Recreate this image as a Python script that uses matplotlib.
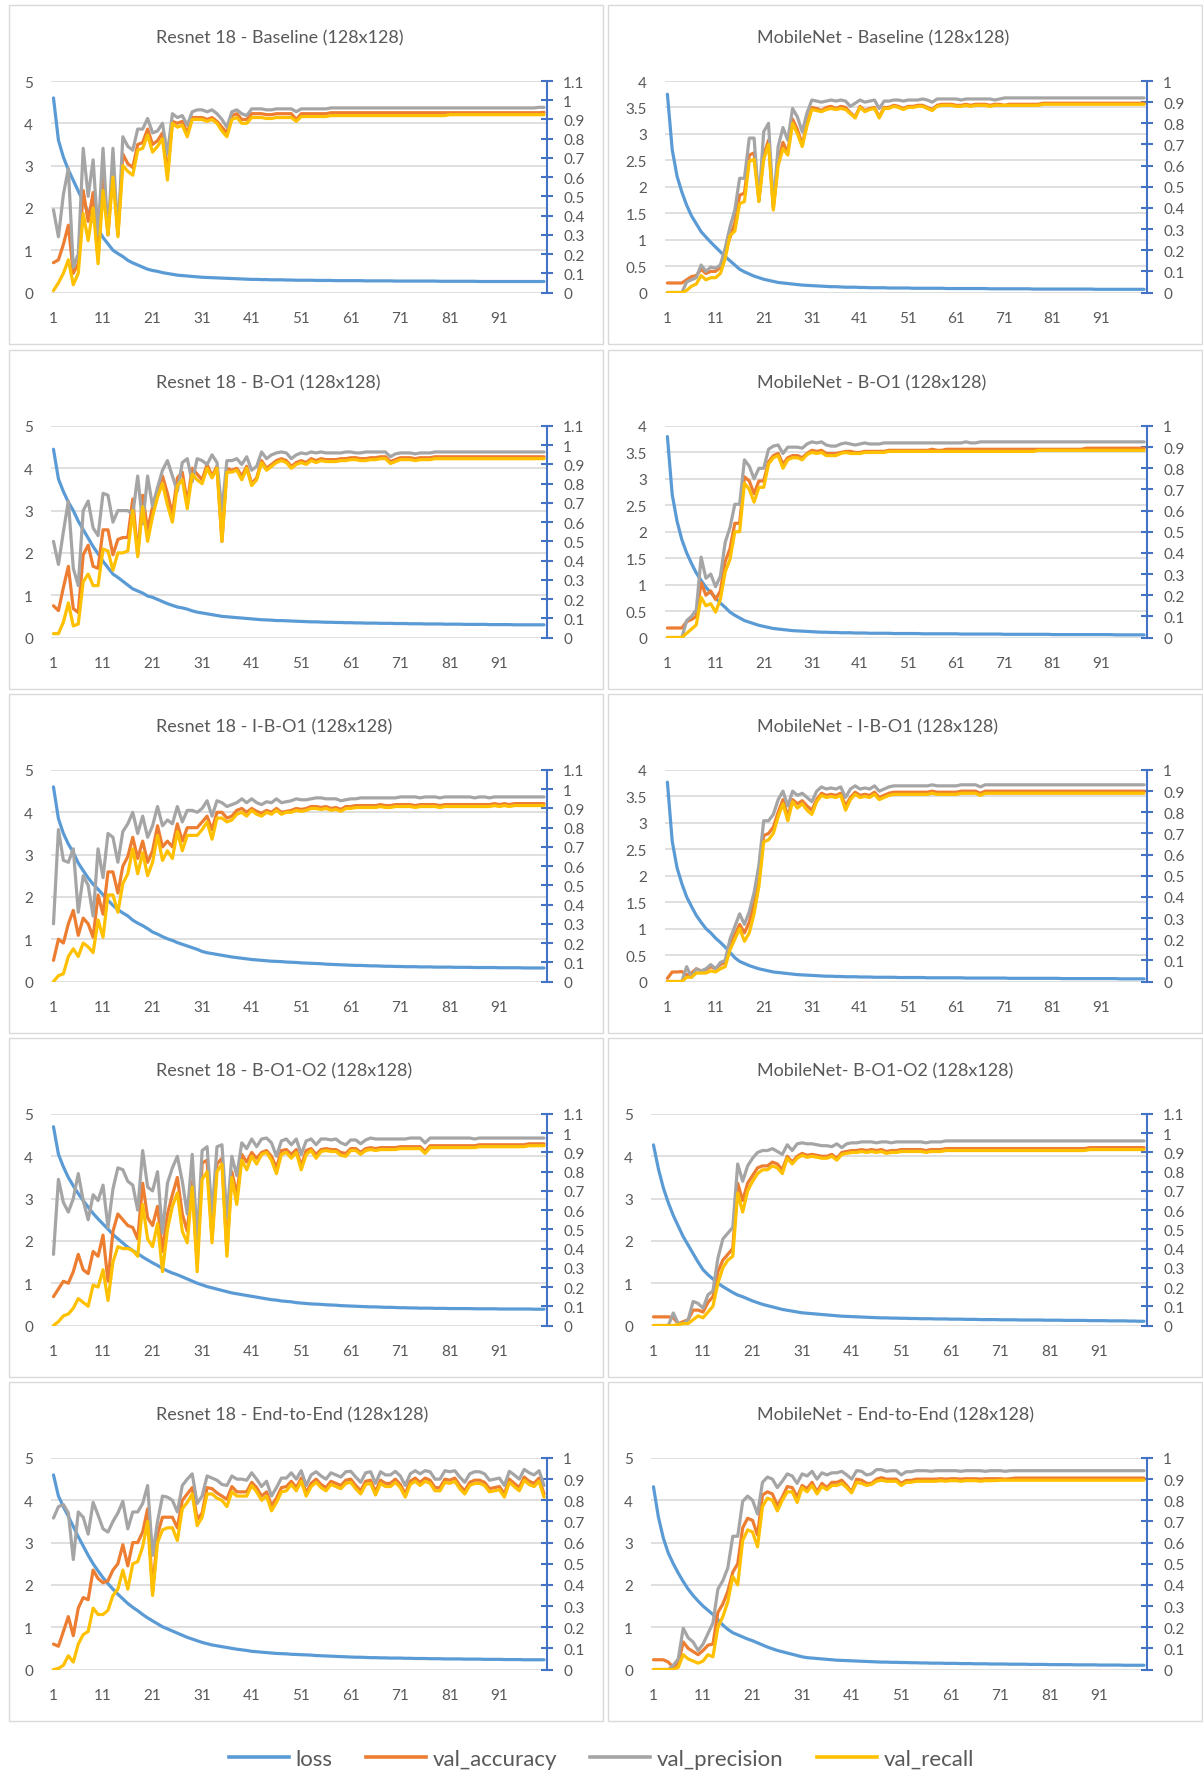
import numpy as np
import matplotlib
matplotlib.use("Agg")
import matplotlib.pyplot as plt
from matplotlib.ticker import FuncFormatter
from matplotlib.patches import Rectangle
from matplotlib.lines import Line2D

plt.rcParams['font.family'] = ['Lato', 'DejaVu Sans']


def series(text):
    vals = np.array(text.split(), dtype=float)
    assert len(vals) == 100, len(vals)
    return vals


epochs = np.arange(1, 101)
x_ticks = [1, 11, 21, 31, 41, 51, 61, 71, 81, 91]
series_names = ["loss", "val_accuracy", "val_precision", "val_recall"]
series_colors = ["#5B9BD5", "#ED7D31", "#A5A5A5", "#FFC000"]

# ---------------- Resnet 18 - Baseline ----------------
r18_base_loss = series("""
4.60 3.60 3.20 2.90 2.65 2.40 2.15 1.90 1.70 1.50
1.30 1.15 1.00 0.92 0.85 0.76 0.70 0.65 0.60 0.55
0.52 0.50 0.47 0.45 0.43 0.41 0.40 0.39 0.38 0.37
0.36 0.355 0.35 0.345 0.34 0.335 0.33 0.325 0.32 0.315
0.31 0.31 0.305 0.305 0.30 0.30 0.30 0.295 0.295 0.29
0.29 0.29 0.29 0.285 0.285 0.285 0.285 0.28 0.28 0.28
0.28 0.28 0.28 0.275 0.275 0.275 0.275 0.275 0.275 0.27
0.27 0.27 0.27 0.27 0.27 0.27 0.27 0.27 0.265 0.265
0.265 0.265 0.265 0.265 0.265 0.265 0.26 0.26 0.26 0.26
0.26 0.26 0.26 0.26 0.26 0.26 0.26 0.26 0.26 0.26""")
r18_base_acc = series("""
.155 .17 .25 .35 .10 .15 .53 .37 .52 .17
.62 .30 .66 .30 .72 .67 .65 .77 .78 .85
.77 .79 .83 .62 .89 .88 .89 .83 .91 .91
.91 .90 .91 .89 .86 .83 .92 .93 .90 .90
.93 .93 .93 .925 .925 .93 .93 .93 .93 .90
.93 .93 .93 .93 .93 .93 .935 .935 .935 .935
.935 .935 .935 .935 .935 .935 .935 .935 .935 .935
.935 .935 .935 .935 .935 .935 .935 .935 .935 .935
.935 .935 .935 .935 .935 .935 .935 .935 .935 .935
.935 .935 .935 .935 .935 .935 .935 .935 .935 .937""")
r18_base_prec = series("""
.43 .29 .51 .645 .13 .20 .75 .50 .69 .30
.75 .30 .75 .30 .81 .76 .74 .85 .85 .905
.83 .84 .88 .72 .93 .91 .92 .87 .94 .95
.95 .94 .95 .93 .90 .86 .94 .95 .93 .92
.955 .955 .955 .95 .95 .955 .955 .955 .955 .94
.955 .955 .955 .955 .955 .955 .96 .96 .96 .96
.96 .96 .96 .96 .96 .96 .96 .96 .96 .96
.96 .96 .96 .96 .96 .96 .96 .96 .96 .96
.96 .96 .96 .96 .96 .96 .96 .96 .96 .96
.96 .96 .96 .96 .96 .96 .96 .96 .963 .963""")
r18_base_rec = series("""
.01 .05 .10 .17 .04 .10 .41 .27 .44 .15
.53 .30 .60 .29 .66 .63 .61 .74 .75 .82
.73 .76 .80 .585 .88 .86 .87 .81 .90 .90
.90 .89 .90 .88 .84 .81 .90 .91 .88 .88
.91 .91 .91 .905 .905 .91 .91 .91 .91 .89
.915 .915 .915 .915 .915 .915 .92 .92 .92 .92
.92 .92 .92 .92 .92 .92 .92 .92 .92 .92
.92 .92 .92 .92 .92 .92 .92 .92 .92 .92
.925 .925 .925 .925 .925 .925 .925 .925 .925 .925
.925 .925 .925 .925 .925 .925 .925 .925 .925 .925""")

# ---------------- MobileNet - Baseline ----------------
mb_base_loss = series("""
3.75 2.70 2.20 1.90 1.65 1.45 1.30 1.15 1.05 0.95
0.86 0.77 0.68 0.60 0.52 0.44 0.39 0.35 0.31 0.28
0.25 0.23 0.21 0.19 0.18 0.17 0.16 0.15 0.14 0.135
0.13 0.125 0.12 0.115 0.11 0.11 0.105 0.10 0.10 0.10
0.095 0.095 0.09 0.09 0.09 0.09 0.085 0.085 0.085 0.085
0.085 0.08 0.08 0.08 0.08 0.08 0.08 0.08 0.075 0.075
0.075 0.075 0.075 0.075 0.075 0.075 0.075 0.07 0.07 0.07
0.07 0.07 0.07 0.07 0.07 0.07 0.065 0.065 0.065 0.065
0.065 0.065 0.065 0.065 0.065 0.065 0.065 0.065 0.065 0.06
0.06 0.06 0.06 0.06 0.06 0.06 0.06 0.06 0.06 0.06""")
mb_base_acc = series("""
.045 .045 .045 .045 .06 .075 .08 .11 .09 .10
.10 .12 .20 .26 .33 .46 .47 .65 .66 .44
.65 .72 .40 .62 .71 .66 .82 .77 .70 .80
.875 .87 .86 .875 .88 .87 .88 .875 .85 .83
.88 .86 .87 .875 .83 .875 .875 .885 .88 .87
.88 .88 .885 .885 .875 .865 .885 .89 .89 .89
.885 .885 .89 .885 .89 .89 .89 .885 .89 .89
.885 .89 .89 .89 .89 .89 .89 .89 .895 .895
.895 .895 .895 .895 .895 .895 .895 .895 .895 .895
.895 .895 .895 .895 .895 .895 .895 .895 .895 .895""")
mb_base_prec = series("""
0 0 0 0 .05 .06 .07 .13 .10 .12
.115 .13 .21 .31 .39 .54 .54 .73 .73 .43
.76 .80 .41 .69 .78 .72 .87 .83 .76 .85
.91 .905 .90 .905 .91 .905 .91 .905 .88 .895
.91 .90 .905 .91 .87 .905 .905 .91 .91 .905
.91 .91 .91 .915 .91 .90 .915 .915 .915 .915
.915 .91 .915 .915 .915 .915 .915 .915 .91 .915
.92 .92 .92 .92 .92 .92 .92 .92 .92 .92
.92 .92 .92 .92 .92 .92 .92 .92 .92 .92
.92 .92 .92 .92 .92 .92 .92 .92 .92 .92""")
mb_base_rec = series("""
0 0 0 0 .01 .03 .04 .08 .06 .07
.07 .09 .16 .27 .29 .42 .43 .62 .63 .43
.63 .70 .39 .60 .68 .65 .80 .75 .69 .79
.865 .86 .855 .865 .87 .865 .87 .865 .845 .825
.875 .855 .865 .87 .825 .87 .87 .88 .875 .865
.875 .875 .88 .88 .87 .86 .88 .885 .885 .885
.88 .88 .885 .88 .885 .885 .885 .88 .885 .885
.885 .885 .885 .885 .885 .885 .885 .885 .89 .89
.89 .89 .89 .89 .89 .89 .89 .89 .89 .89
.89 .89 .89 .89 .89 .89 .89 .89 .89 .89""")

# ---------------- Resnet 18 - B-O1 ----------------
r18_bo1_loss = series("""
4.45 3.75 3.45 3.20 3.00 2.75 2.55 2.35 2.15 1.98
1.80 1.65 1.50 1.42 1.33 1.24 1.15 1.10 1.05 0.98
0.95 0.90 0.85 0.80 0.76 0.72 0.70 0.67 0.63 0.60
0.58 0.56 0.54 0.52 0.50 0.49 0.48 0.47 0.46 0.45
0.44 0.43 0.42 0.415 0.41 0.40 0.40 0.395 0.39 0.385
0.38 0.375 0.37 0.37 0.365 0.36 0.36 0.355 0.355 0.35
0.35 0.345 0.345 0.34 0.34 0.34 0.335 0.335 0.335 0.33
0.33 0.33 0.325 0.325 0.325 0.32 0.32 0.32 0.32 0.315
0.315 0.315 0.315 0.31 0.31 0.31 0.31 0.31 0.305 0.305
0.305 0.305 0.305 0.30 0.30 0.30 0.30 0.30 0.30 0.30""")
r18_bo1_acc = series("""
.165 .14 .26 .37 .15 .13 .43 .48 .37 .36
.56 .56 .43 .51 .52 .52 .72 .43 .74 .56
.68 .77 .84 .75 .64 .83 .86 .70 .88 .85
.82 .90 .84 .89 .50 .88 .87 .88 .84 .89
.80 .83 .92 .88 .90 .92 .93 .92 .89 .91
.92 .91 .93 .92 .93 .925 .925 .925 .93 .93
.935 .935 .93 .93 .935 .935 .94 .94 .915 .925
.935 .935 .935 .93 .935 .935 .935 .94 .94 .94
.94 .94 .94 .94 .94 .94 .94 .94 .94 .94
.94 .94 .94 .94 .94 .94 .94 .94 .94 .94""")
r18_bo1_prec = series("""
.50 .38 .55 .71 .36 .27 .66 .71 .57 .53
.75 .74 .60 .66 .66 .66 .64 .84 .59 .84
.68 .78 .87 .92 .84 .76 .91 .93 .81 .93
.92 .90 .95 .91 .66 .92 .92 .93 .90 .94
.87 .89 .965 .93 .95 .96 .965 .96 .93 .95
.96 .955 .965 .96 .965 .96 .96 .96 .96 .965
.965 .96 .96 .965 .965 .965 .965 .965 .94 .955
.96 .96 .96 .955 .96 .96 .96 .965 .965 .965
.965 .965 .965 .965 .965 .965 .965 .965 .965 .965
.965 .965 .965 .965 .965 .965 .965 .965 .965 .965""")
r18_bo1_rec = series("""
.02 .02 .08 .18 .06 .07 .29 .33 .27 .27
.46 .45 .35 .44 .44 .45 .66 .42 .68 .50
.63 .73 .80 .69 .60 .79 .82 .67 .85 .82
.80 .88 .83 .88 .50 .86 .86 .87 .82 .88
.79 .82 .91 .87 .89 .91 .92 .91 .88 .90
.91 .90 .92 .91 .92 .915 .915 .915 .92 .92
.925 .925 .92 .92 .925 .925 .93 .93 .905 .915
.925 .925 .925 .92 .925 .925 .925 .93 .93 .93
.93 .93 .93 .93 .93 .93 .93 .93 .93 .93
.93 .93 .93 .93 .93 .93 .93 .93 .93 .93""")

# ---------------- MobileNet - B-O1 ----------------
mb_bo1_loss = series("""
3.80 2.70 2.20 1.85 1.60 1.40 1.22 1.08 0.95 0.85
0.75 0.65 0.57 0.48 0.42 0.37 0.32 0.29 0.26 0.23
0.21 0.19 0.17 0.16 0.15 0.14 0.13 0.125 0.12 0.115
0.11 0.105 0.10 0.10 0.095 0.095 0.09 0.09 0.09 0.085
0.085 0.085 0.08 0.08 0.08 0.08 0.08 0.075 0.075 0.075
0.075 0.075 0.075 0.07 0.07 0.07 0.07 0.07 0.07 0.07
0.07 0.065 0.065 0.065 0.065 0.065 0.065 0.065 0.065 0.065
0.06 0.06 0.06 0.06 0.06 0.06 0.06 0.06 0.06 0.06
0.055 0.055 0.055 0.055 0.055 0.055 0.055 0.055 0.055 0.055
0.055 0.055 0.055 0.05 0.05 0.05 0.05 0.05 0.05 0.05""")
mb_bo1_acc = series("""
.045 .045 .045 .045 .075 .085 .10 .26 .20 .22
.18 .22 .36 .42 .54 .54 .76 .74 .68 .74
.74 .83 .86 .87 .82 .85 .86 .86 .85 .87
.885 .88 .885 .87 .87 .87 .875 .88 .88 .875
.875 .88 .88 .88 .88 .88 .885 .885 .885 .885
.885 .885 .885 .885 .885 .89 .885 .885 .89 .89
.89 .89 .89 .89 .89 .89 .89 .89 .89 .89
.89 .89 .89 .89 .89 .89 .89 .89 .89 .89
.89 .89 .89 .89 .89 .89 .89 .895 .895 .895
.895 .895 .895 .895 .895 .895 .895 .895 .895 .895""")
mb_bo1_prec = series("""
0 0 0 0 .08 .10 .13 .38 .28 .30
.24 .29 .45 .52 .63 .63 .84 .81 .75 .80
.80 .89 .905 .91 .87 .90 .90 .90 .895 .915
.925 .92 .925 .91 .905 .905 .915 .92 .915 .91
.915 .92 .915 .915 .915 .92 .92 .92 .92 .92
.92 .92 .92 .92 .92 .92 .92 .92 .92 .92
.92 .92 .925 .92 .92 .925 .925 .925 .925 .925
.925 .925 .925 .925 .925 .925 .925 .925 .925 .925
.925 .925 .925 .925 .925 .925 .925 .925 .925 .925
.925 .925 .925 .925 .925 .925 .925 .925 .925 .925""")
mb_bo1_rec = series("""
0 0 0 0 .02 .04 .06 .19 .15 .16
.12 .18 .31 .37 .50 .50 .73 .70 .64 .71
.71 .82 .85 .86 .80 .84 .85 .85 .84 .865
.875 .87 .875 .86 .86 .86 .87 .875 .87 .87
.87 .875 .875 .875 .875 .875 .88 .88 .88 .88
.88 .88 .88 .88 .88 .88 .88 .88 .88 .88
.88 .88 .88 .88 .88 .88 .88 .88 .88 .88
.88 .88 .88 .88 .88 .88 .88 .885 .885 .885
.885 .885 .885 .885 .885 .885 .885 .885 .885 .885
.885 .885 .885 .885 .885 .885 .885 .885 .885 .885""")

# ---------------- Resnet 18 - I-B-O1 ----------------
r18_ibo1_loss = series("""
4.60 3.85 3.50 3.25 3.05 2.80 2.62 2.45 2.30 2.18
2.05 1.92 1.80 1.70 1.62 1.55 1.45 1.38 1.32 1.25
1.17 1.12 1.06 1.01 0.97 0.92 0.88 0.84 0.80 0.76
0.71 0.68 0.66 0.64 0.62 0.60 0.58 0.565 0.55 0.535
0.52 0.51 0.50 0.49 0.48 0.475 0.47 0.46 0.455 0.45
0.44 0.435 0.43 0.425 0.42 0.41 0.405 0.40 0.395 0.39
0.385 0.38 0.38 0.375 0.37 0.37 0.365 0.36 0.36 0.355
0.355 0.35 0.35 0.35 0.345 0.345 0.345 0.34 0.34 0.34
0.34 0.335 0.335 0.335 0.335 0.33 0.33 0.33 0.33 0.33
0.325 0.325 0.325 0.325 0.325 0.32 0.32 0.32 0.32 0.32""")
r18_ibo1_acc = series("""
.11 .22 .20 .30 .37 .24 .33 .30 .23 .45
.35 .57 .57 .46 .60 .65 .75 .64 .73 .62
.68 .81 .70 .73 .70 .82 .73 .80 .80 .80
.83 .86 .79 .88 .88 .85 .86 .89 .90 .88
.90 .885 .875 .89 .88 .90 .88 .885 .89 .90
.895 .90 .91 .91 .905 .91 .90 .905 .895 .91
.91 .915 .915 .915 .915 .915 .92 .915 .915 .92
.92 .92 .92 .915 .92 .92 .92 .92 .915 .92
.92 .92 .92 .92 .92 .92 .92 .92 .92 .925
.92 .925 .92 .925 .925 .925 .925 .925 .925 .925""")
r18_ibo1_prec = series("""
.30 .79 .63 .62 .69 .36 .55 .50 .34 .69
.54 .77 .75 .62 .78 .82 .88 .77 .86 .75
.81 .91 .81 .84 .82 .91 .83 .89 .89 .88
.90 .94 .86 .94 .93 .91 .92 .93 .95 .93
.95 .93 .92 .935 .93 .95 .93 .935 .94 .95
.945 .945 .95 .955 .955 .95 .95 .95 .94 .945
.95 .95 .955 .955 .955 .955 .955 .955 .955 .955
.96 .96 .96 .96 .955 .96 .96 .96 .955 .96
.96 .96 .96 .96 .96 .955 .96 .96 .955 .96
.96 .96 .96 .96 .96 .96 .96 .96 .96 .96""")
r18_ibo1_rec = series("""
.00 .03 .04 .13 .17 .13 .20 .18 .15 .32
.23 .45 .45 .36 .51 .56 .69 .56 .67 .55
.62 .76 .63 .68 .64 .78 .68 .76 .76 .76
.79 .83 .74 .85 .85 .83 .84 .87 .88 .86
.89 .87 .86 .88 .87 .89 .87 .88 .88 .89
.885 .89 .90 .90 .895 .90 .89 .895 .885 .90
.90 .905 .905 .905 .905 .905 .91 .905 .905 .91
.91 .91 .91 .905 .91 .91 .91 .91 .905 .91
.91 .91 .91 .91 .91 .91 .91 .91 .91 .915
.91 .915 .91 .915 .915 .915 .915 .915 .915 .915""")

# ---------------- MobileNet - I-B-O1 ----------------
mb_ibo1_loss = series("""
3.77 2.65 2.15 1.85 1.60 1.42 1.25 1.12 1.00 0.92
0.82 0.74 0.65 0.55 0.45 0.38 0.34 0.30 0.27 0.24
0.22 0.20 0.18 0.17 0.16 0.15 0.14 0.13 0.125 0.12
0.115 0.11 0.105 0.10 0.10 0.095 0.095 0.09 0.09 0.09
0.085 0.085 0.085 0.08 0.08 0.08 0.08 0.08 0.075 0.075
0.075 0.075 0.075 0.075 0.07 0.07 0.07 0.07 0.07 0.07
0.07 0.07 0.065 0.065 0.065 0.065 0.065 0.065 0.065 0.065
0.065 0.06 0.06 0.06 0.06 0.06 0.06 0.06 0.06 0.06
0.06 0.06 0.055 0.055 0.055 0.055 0.055 0.055 0.055 0.055
0.055 0.055 0.055 0.055 0.05 0.05 0.05 0.05 0.05 0.05""")
mb_ibo1_acc = series("""
.015 .045 .045 .047 .03 .04 .06 .05 .055 .07
.06 .08 .09 .17 .22 .27 .23 .28 .37 .50
.69 .70 .73 .80 .86 .78 .86 .84 .855 .83
.81 .86 .89 .88 .885 .88 .89 .83 .87 .895
.88 .885 .88 .895 .87 .88 .89 .895 .895 .895
.895 .895 .895 .895 .895 .90 .895 .895 .895 .895
.895 .90 .90 .90 .90 .89 .90 .90 .90 .90
.90 .90 .90 .90 .90 .90 .90 .90 .90 .90
.90 .90 .90 .90 .90 .90 .90 .90 .90 .90
.90 .90 .90 .90 .90 .90 .90 .90 .90 .90""")
mb_ibo1_prec = series("""
0 0 0 0 .07 .02 .06 .05 .06 .08
.06 .09 .10 .20 .26 .32 .27 .33 .42 .55
.76 .76 .79 .86 .90 .83 .90 .88 .89 .87
.85 .90 .92 .91 .915 .91 .92 .87 .91 .925
.91 .915 .91 .925 .90 .91 .92 .925 .925 .925
.925 .925 .925 .925 .925 .93 .925 .925 .925 .925
.925 .93 .93 .93 .93 .92 .93 .93 .93 .93
.93 .93 .93 .93 .93 .93 .93 .93 .93 .93
.93 .93 .93 .93 .93 .93 .93 .93 .93 .93
.93 .93 .93 .93 .93 .93 .93 .93 .93 .93""")
mb_ibo1_rec = series("""
0 0 0 0 .02 .02 .04 .04 .04 .05
.045 .06 .07 .15 .20 .25 .19 .23 .32 .45
.66 .67 .70 .78 .84 .76 .85 .82 .84 .81
.79 .85 .88 .87 .875 .87 .88 .81 .86 .885
.87 .875 .87 .885 .86 .87 .88 .885 .885 .885
.885 .885 .885 .885 .885 .89 .885 .885 .885 .885
.885 .89 .89 .89 .89 .88 .89 .89 .89 .89
.89 .89 .89 .89 .89 .89 .89 .89 .89 .89
.89 .89 .89 .89 .89 .89 .89 .89 .89 .89
.89 .89 .89 .89 .89 .89 .89 .89 .89 .89""")

# ---------------- Resnet 18 - B-O1-O2 ----------------
r18_bo1o2_loss = series("""
4.70 4.05 3.75 3.50 3.30 3.12 2.95 2.80 2.65 2.52
2.40 2.28 2.15 2.05 1.95 1.85 1.77 1.70 1.62 1.55
1.48 1.42 1.35 1.29 1.24 1.20 1.15 1.10 1.05 1.00
0.96 0.92 0.89 0.86 0.83 0.80 0.77 0.75 0.73 0.71
0.69 0.67 0.65 0.63 0.61 0.60 0.58 0.57 0.56 0.54
0.53 0.52 0.51 0.505 0.50 0.49 0.485 0.48 0.47 0.465
0.46 0.455 0.45 0.445 0.44 0.44 0.435 0.43 0.43 0.425
0.42 0.42 0.415 0.415 0.41 0.41 0.41 0.405 0.405 0.405
0.40 0.40 0.40 0.40 0.40 0.395 0.395 0.395 0.395 0.395
0.39 0.39 0.39 0.39 0.39 0.39 0.39 0.385 0.385 0.385""")
r18_bo1o2_acc = series("""
.15 .19 .23 .22 .28 .37 .29 .27 .385 .36
.47 .23 .49 .58 .55 .52 .51 .45 .74 .56
.52 .62 .385 .58 .68 .77 .58 .49 .75 .32
.845 .86 .45 .84 .87 .385 .80 .68 .89 .85
.90 .87 .90 .91 .88 .82 .91 .915 .89 .915
.83 .91 .92 .89 .915 .92 .915 .915 .90 .895
.92 .92 .90 .92 .925 .92 .925 .925 .925 .925
.93 .93 .93 .93 .93 .905 .935 .935 .935 .935
.935 .935 .935 .935 .935 .935 .94 .94 .94 .94
.94 .94 .94 .94 .94 .94 .945 .945 .945 .945""")
r18_bo1o2_prec = series("""
.37 .76 .64 .59 .66 .79 .65 .55 .68 .65
.73 .51 .71 .82 .81 .75 .73 .60 .91 .72
.70 .80 .48 .74 .82 .88 .75 .58 .89 .45
.91 .93 .58 .93 .94 .56 .88 .78 .95 .92
.97 .93 .97 .975 .95 .88 .96 .97 .94 .97
.89 .96 .97 .94 .97 .97 .965 .97 .95 .94
.965 .965 .945 .965 .975 .97 .97 .97 .97 .97
.97 .97 .975 .975 .975 .95 .975 .975 .975 .975
.975 .975 .975 .975 .975 .97 .975 .975 .975 .975
.975 .975 .975 .975 .975 .975 .975 .975 .975 .975""")
r18_bo1o2_rec = series("""
.00 .02 .05 .06 .09 .14 .12 .10 .21 .20
.29 .13 .33 .41 .40 .40 .39 .36 .63 .45
.41 .53 .28 .50 .62 .69 .49 .43 .72 .28
.76 .80 .43 .80 .84 .36 .77 .63 .86 .81
.88 .84 .89 .90 .86 .79 .89 .90 .87 .90
.81 .89 .91 .87 .905 .91 .905 .905 .885 .88
.91 .91 .89 .91 .915 .91 .915 .915 .915 .915
.92 .92 .92 .92 .92 .895 .925 .925 .925 .925
.925 .925 .925 .925 .925 .925 .93 .93 .93 .93
.93 .93 .93 .93 .93 .93 .935 .935 .935 .935""")

# ---------------- MobileNet - B-O1-O2 ----------------
mb_bo1o2_loss = series("""
4.27 3.70 3.25 2.90 2.60 2.35 2.10 1.90 1.70 1.50
1.32 1.20 1.10 1.00 0.92 0.85 0.78 0.72 0.68 0.63
0.58 0.54 0.50 0.47 0.44 0.41 0.38 0.36 0.34 0.32
0.30 0.29 0.28 0.27 0.26 0.25 0.24 0.23 0.22 0.215
0.21 0.205 0.20 0.195 0.19 0.185 0.18 0.18 0.175 0.175
0.17 0.17 0.165 0.165 0.16 0.16 0.16 0.155 0.155 0.155
0.15 0.15 0.15 0.145 0.145 0.145 0.14 0.14 0.14 0.14
0.135 0.135 0.135 0.135 0.13 0.13 0.13 0.13 0.13 0.125
0.125 0.125 0.125 0.12 0.12 0.12 0.12 0.12 0.115 0.115
0.115 0.115 0.11 0.11 0.11 0.11 0.105 0.105 0.10 0.10""")
mb_bo1o2_acc = series("""
.045 .045 .045 .045 .04 .01 .02 .03 .08 .08
.07 .12 .15 .28 .34 .37 .40 .74 .65 .74
.78 .82 .83 .83 .85 .84 .81 .88 .85 .88
.895 .885 .89 .885 .88 .88 .89 .87 .90 .905
.91 .91 .915 .91 .915 .91 .915 .905 .91 .91
.915 .915 .915 .915 .915 .91 .915 .915 .915 .92
.92 .92 .92 .92 .92 .92 .92 .92 .92 .92
.92 .92 .92 .92 .92 .92 .92 .92 .92 .92
.92 .92 .92 .92 .92 .92 .92 .92 .925 .925
.925 .925 .925 .925 .925 .925 .925 .925 .925 .925""")
mb_bo1o2_prec = series("""
0 0 0 0 .065 .01 .01 .03 .125 .115
.09 .16 .18 .35 .45 .48 .51 .84 .75 .83
.87 .90 .91 .91 .92 .905 .89 .94 .91 .945
.95 .945 .945 .94 .935 .935 .93 .945 .925 .945
.95 .95 .955 .955 .955 .95 .955 .955 .95 .955
.955 .955 .955 .955 .955 .95 .955 .955 .955 .96
.96 .96 .96 .96 .96 .96 .96 .96 .96 .96
.96 .96 .96 .96 .96 .96 .96 .96 .96 .96
.96 .96 .96 .96 .96 .96 .96 .96 .96 .96
.96 .96 .96 .96 .96 .96 .96 .96 .96 .96""")
mb_bo1o2_rec = series("""
0 0 0 0 0 .005 .01 .01 .03 .05
.04 .07 .10 .22 .30 .34 .36 .69 .59 .70
.75 .79 .81 .81 .83 .82 .79 .87 .84 .87
.885 .875 .88 .875 .87 .87 .88 .86 .89 .895
.90 .90 .905 .90 .905 .90 .905 .895 .90 .90
.905 .905 .905 .905 .905 .90 .905 .905 .905 .91
.91 .91 .91 .91 .91 .91 .91 .91 .91 .91
.91 .91 .91 .91 .91 .91 .91 .91 .91 .91
.91 .91 .91 .91 .91 .91 .91 .91 .915 .915
.915 .915 .915 .915 .915 .915 .915 .915 .915 .915""")

# ---------------- Resnet 18 - End-to-End ----------------
r18_e2e_loss = series("""
4.60 4.10 3.85 3.62 3.38 3.14 2.92 2.70 2.50 2.33
2.17 2.03 1.90 1.78 1.67 1.56 1.47 1.39 1.30 1.22
1.15 1.08 1.01 0.96 0.91 0.86 0.81 0.76 0.72 0.68
0.64 0.61 0.58 0.56 0.54 0.52 0.50 0.48 0.465 0.45
0.43 0.42 0.41 0.40 0.39 0.38 0.375 0.37 0.36 0.355
0.35 0.345 0.34 0.33 0.325 0.32 0.315 0.31 0.305 0.30
0.295 0.29 0.29 0.285 0.28 0.28 0.275 0.275 0.27 0.27
0.27 0.265 0.265 0.26 0.26 0.26 0.255 0.255 0.255 0.25
0.25 0.25 0.25 0.245 0.245 0.245 0.245 0.24 0.24 0.24
0.24 0.235 0.235 0.235 0.235 0.23 0.23 0.23 0.23 0.23""")
r18_e2e_acc = series("""
.12 .11 .18 .25 .16 .29 .34 .33 .47 .43
.41 .42 .47 .50 .59 .49 .60 .60 .65 .76
.366 .64 .72 .72 .72 .67 .80 .83 .86 .71
.74 .86 .855 .835 .82 .805 .865 .84 .84 .84
.885 .86 .82 .84 .775 .81 .86 .865 .89 .86
.905 .835 .88 .90 .875 .86 .89 .88 .87 .895
.90 .87 .845 .89 .895 .84 .895 .88 .88 .90
.875 .83 .89 .905 .885 .905 .895 .86 .86 .90
.895 .905 .87 .845 .885 .895 .895 .885 .855 .86
.865 .83 .90 .88 .86 .91 .89 .88 .905 .83""")
r18_e2e_prec = series("""
.716 .77 .78 .74 .52 .745 .72 .64 .79 .73
.665 .65 .70 .74 .795 .665 .745 .745 .785 .87
.54 .70 .82 .815 .80 .745 .87 .90 .925 .785
.82 .915 .905 .895 .875 .87 .915 .90 .90 .895
.93 .90 .865 .89 .82 .86 .905 .905 .93 .90
.94 .87 .92 .935 .915 .90 .93 .92 .91 .935
.937 .91 .885 .93 .935 .88 .935 .92 .92 .937
.915 .87 .925 .94 .925 .94 .935 .90 .90 .94
.935 .94 .91 .885 .925 .935 .935 .925 .895 .90
.905 .87 .937 .92 .90 .946 .93 .92 .94 .87""")
r18_e2e_rec = series("""
.00 .005 .02 .065 .035 .12 .165 .18 .29 .26
.26 .28 .35 .38 .47 .38 .50 .51 .58 .70
.35 .60 .66 .67 .67 .61 .76 .79 .83 .68
.72 .83 .83 .81 .80 .77 .84 .82 .82 .82
.87 .84 .80 .82 .75 .79 .84 .845 .875 .845
.89 .82 .865 .885 .86 .845 .875 .865 .855 .88
.885 .855 .83 .875 .88 .825 .88 .865 .865 .885
.86 .815 .875 .89 .87 .89 .88 .845 .845 .885
.88 .89 .855 .83 .87 .88 .88 .87 .84 .845
.85 .815 .885 .865 .845 .895 .875 .865 .89 .815""")

# ---------------- MobileNet - End-to-End ----------------
mb_e2e_loss = series("""
4.32 3.60 3.10 2.75 2.50 2.28 2.08 1.90 1.75 1.62
1.50 1.40 1.30 1.18 1.05 0.95 0.87 0.82 0.77 0.72
0.68 0.63 0.58 0.53 0.49 0.45 0.42 0.39 0.36 0.33
0.30 0.28 0.27 0.26 0.25 0.24 0.23 0.22 0.215 0.21
0.205 0.20 0.195 0.19 0.185 0.18 0.175 0.175 0.17 0.17
0.165 0.165 0.16 0.16 0.155 0.155 0.15 0.15 0.15 0.145
0.145 0.145 0.14 0.14 0.14 0.135 0.135 0.135 0.13 0.13
0.13 0.13 0.125 0.125 0.125 0.125 0.12 0.12 0.12 0.12
0.115 0.115 0.115 0.115 0.115 0.11 0.11 0.11 0.11 0.11
0.105 0.105 0.105 0.105 0.105 0.10 0.10 0.10 0.10 0.10""")
mb_e2e_acc = series("""
.046 .046 .046 .035 .01 .027 .13 .10 .085 .07
.09 .115 .12 .27 .31 .37 .46 .50 .67 .715
.705 .635 .825 .84 .83 .775 .815 .865 .86 .815
.87 .855 .885 .84 .88 .86 .885 .885 .895 .87
.84 .90 .895 .88 .88 .90 .907 .90 .90 .90
.88 .894 .894 .90 .90 .90 .90 .90 .902 .90
.902 .902 .90 .902 .902 .902 .90 .902 .902 .902
.902 .90 .902 .905 .905 .905 .905 .905 .905 .905
.905 .905 .905 .905 .905 .905 .905 .905 .905 .905
.905 .905 .905 .905 .905 .905 .905 .905 .905 .905""")
mb_e2e_prec = series("""
0 0 0 0 .02 .05 .195 .15 .13 .09
.12 .17 .22 .38 .42 .48 .63 .63 .795 .82
.80 .735 .885 .91 .90 .86 .89 .925 .915 .88
.925 .915 .937 .90 .93 .92 .93 .93 .937 .92
.90 .94 .937 .92 .925 .945 .945 .937 .94 .94
.92 .935 .935 .94 .94 .94 .937 .94 .94 .94
.94 .94 .937 .94 .94 .94 .94 .937 .94 .94
.94 .937 .94 .94 .94 .94 .94 .94 .94 .94
.94 .94 .94 .94 .94 .94 .94 .94 .94 .94
.94 .94 .94 .94 .94 .94 .94 .94 .94 .94""")
mb_e2e_rec = series("""
0 0 0 0 0 .01 .07 .05 .04 .03
.04 .07 .06 .20 .25 .32 .44 .40 .61 .66
.65 .58 .77 .81 .80 .75 .80 .84 .84 .79
.86 .84 .87 .83 .865 .85 .87 .87 .88 .86
.835 .885 .88 .87 .875 .89 .895 .89 .89 .89
.87 .885 .885 .89 .89 .89 .89 .89 .893 .89
.893 .893 .89 .893 .893 .893 .89 .893 .893 .893
.895 .895 .895 .895 .895 .895 .895 .895 .895 .895
.895 .895 .895 .895 .895 .895 .895 .895 .895 .895
.895 .895 .895 .895 .895 .895 .895 .895 .895 .895""")

panels = [
    ("Resnet 18 - Baseline (128x128)", [r18_base_loss, r18_base_acc, r18_base_prec, r18_base_rec], 5, 1.0, 1.1),
    ("MobileNet - Baseline (128x128)", [mb_base_loss, mb_base_acc, mb_base_prec, mb_base_rec], 4, 0.5, 1.0),
    ("Resnet 18 - B-O1 (128x128)", [r18_bo1_loss, r18_bo1_acc, r18_bo1_prec, r18_bo1_rec], 5, 1.0, 1.1),
    ("MobileNet - B-O1 (128x128)", [mb_bo1_loss, mb_bo1_acc, mb_bo1_prec, mb_bo1_rec], 4, 0.5, 1.0),
    ("Resnet 18 - I-B-O1 (128x128)", [r18_ibo1_loss, r18_ibo1_acc, r18_ibo1_prec, r18_ibo1_rec], 5, 1.0, 1.1),
    ("MobileNet - I-B-O1 (128x128)", [mb_ibo1_loss, mb_ibo1_acc, mb_ibo1_prec, mb_ibo1_rec], 4, 0.5, 1.0),
    ("Resnet 18 - B-O1-O2 (128x128)", [r18_bo1o2_loss, r18_bo1o2_acc, r18_bo1o2_prec, r18_bo1o2_rec], 5, 1.0, 1.1),
    ("MobileNet- B-O1-O2 (128x128)", [mb_bo1o2_loss, mb_bo1o2_acc, mb_bo1o2_prec, mb_bo1o2_rec], 5, 1.0, 1.1),
    ("Resnet 18 - End-to-End (128x128)", [r18_e2e_loss, r18_e2e_acc, r18_e2e_prec, r18_e2e_rec], 5, 1.0, 1.0),
    ("MobileNet - End-to-End (128x128)", [mb_e2e_loss, mb_e2e_acc, mb_e2e_prec, mb_e2e_rec], 5, 1.0, 1.0),
]

# ---------------- layout (pixels) ----------------
W, H = 1203, 1774
fig = plt.figure(figsize=(W / 100, H / 100), dpi=100)
fig.patch.set_facecolor("white")

col_x = [9, 608]
row_y = [6, 351, 695, 1039, 1383]
panel_w, panel_h = 594, 339
text_gray = "#595959"
grid_gray = "#D9D9D9"
axis_blue = "#4472C4"
fmt = FuncFormatter(lambda v, p: f"{round(v, 2):g}")


def fig_rect(x, y, w, h):
    return [x / W, 1 - (y + h) / H, w / W, h / H]


for i, (title, data, lmax, lstep, rmax) in enumerate(panels):
    col, row = i % 2, i // 2
    x0, y0 = col_x[col], row_y[row]

    fig.add_artist(Rectangle((x0 / W, 1 - (y0 + panel_h) / H), panel_w / W, panel_h / H,
                             transform=fig.transFigure, fill=False,
                             edgecolor=grid_gray, linewidth=1.0))

    if lstep == 0.5:
        left = 57
    else:
        left = 42 if col == 0 else 43
    right = 537.5 if col == 0 else 538.5
    top, bottom = 76, 287.5

    ax = fig.add_axes(fig_rect(x0 + left, y0 + top, right - left, bottom - top))
    ax2 = ax.twinx()

    ax.plot(epochs, data[0], color=series_colors[0], lw=2.3, solid_joinstyle="round",
            solid_capstyle="round")
    for k in (1, 2, 3):
        ax2.plot(epochs, data[k], color=series_colors[k], lw=2.3, solid_joinstyle="round",
                 solid_capstyle="round")

    ax.set_xlim(0.5, 100.5)
    ax.set_ylim(0, lmax)
    ax.set_yticks(np.round(np.arange(0, lmax + 1e-9, lstep), 2))
    ax.yaxis.set_major_formatter(fmt)
    ax.set_xticks(x_ticks)
    ax.grid(axis="y", color=grid_gray, lw=1.2)
    ax.set_axisbelow(True)
    for s in ax.spines.values():
        s.set_visible(False)
    ax.tick_params(axis="y", length=0, pad=13, labelsize=11, labelcolor=text_gray)
    ax.tick_params(axis="x", length=0, pad=13, labelsize=11, labelcolor=text_gray)

    ax2.set_ylim(0, rmax)
    ax2.set_yticks(np.round(np.arange(0, rmax + 1e-9, 0.1), 2))
    ax2.yaxis.set_major_formatter(fmt)
    for name, s in ax2.spines.items():
        s.set_visible(name == "right")
    ax2.spines["right"].set_color(axis_blue)
    ax2.spines["right"].set_linewidth(1.5)
    ax2.tick_params(axis="y", direction="inout", length=8, width=1.5, color=axis_blue,
                    pad=8, labelsize=11, labelcolor=text_gray)

    fig.text((x0 + (147 if col == 0 else 149)) / W, 1 - (y0 + 32) / H, title,
             ha="left", va="center", fontsize=13, color=text_gray)

handles = [Line2D([0], [0], color=c, lw=2.6) for c in series_colors]
fig.legend(handles, series_names, loc="center", bbox_to_anchor=(0.5, 1 - 1760 / H),
           ncol=4, frameon=False, fontsize=16, labelcolor=text_gray,
           handlelength=2.7, handletextpad=0.3, columnspacing=1.5)

fig.savefig("out.png", dpi=100, facecolor="white")
